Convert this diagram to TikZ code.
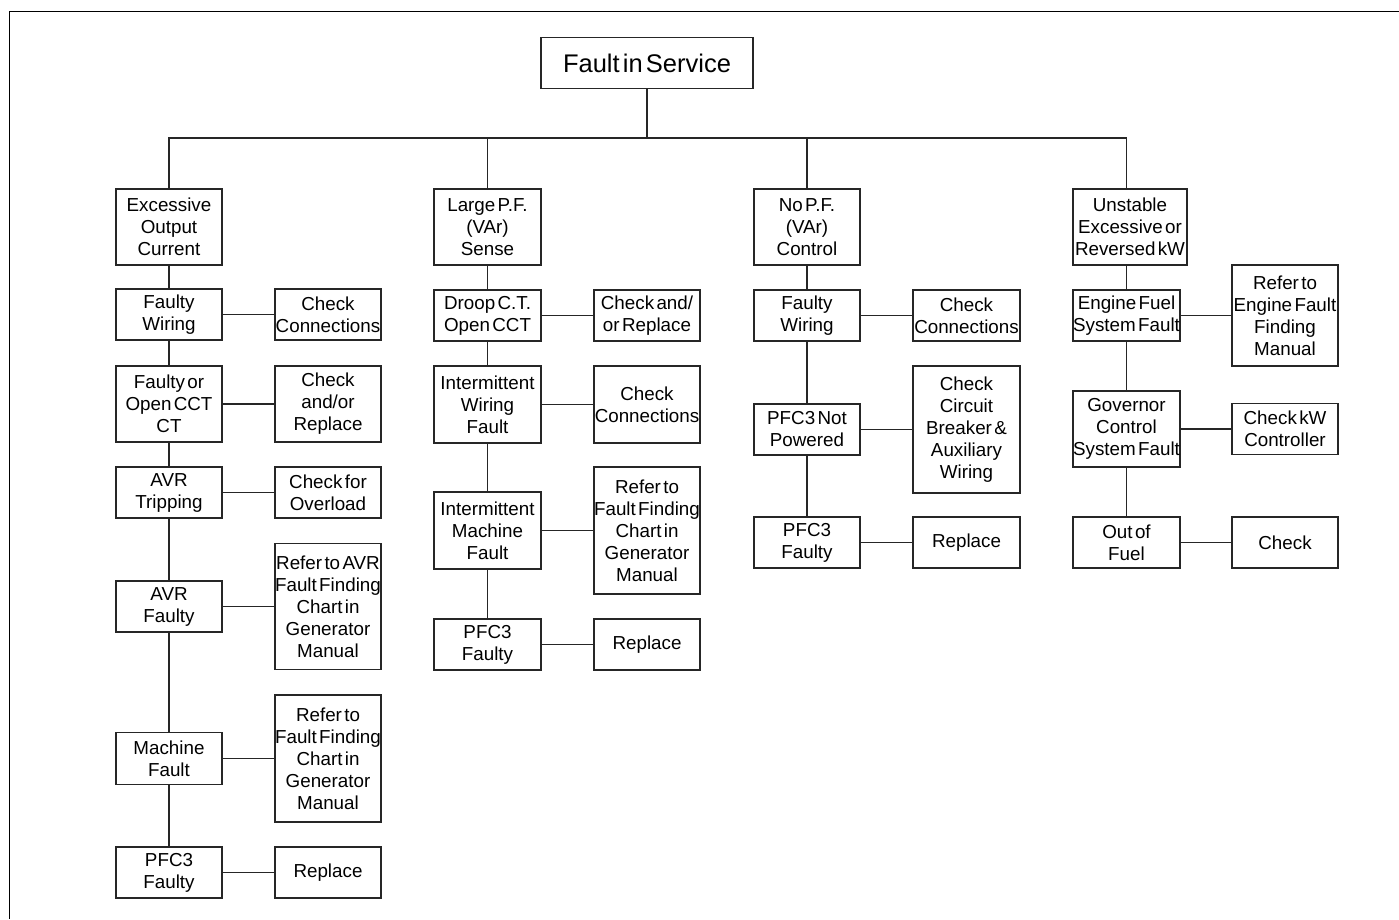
\documentclass[tikz,border=0pt]{standalone}
\usepackage{fontspec}
\setmainfont{Liberation Sans}[WordSpace=0.45]
\begin{document}
\begin{tikzpicture}[x=1pt,y=-1pt,
  box/.style={draw=black!85, line width=1.1pt, align=center, inner sep=0pt, outer sep=0pt,
    font=\fontsize{18.8}{22}\selectfont},
  wire/.style={draw=black!85, line width=1.1pt},
  frame/.style={draw=black, line width=1pt}]
\useasboundingbox (0,0) rectangle (1399,919);
\draw[frame] (1399,11) -- (9,11) -- (9,919);
% root
\node[box, minimum width=212, minimum height=51, font=\fontsize{25.5}{28}\selectfont] (root) at (647,63) {Fault in Service};
% column 1
\node[box, minimum width=106, minimum height=76] (e1) at (169,227) {Excessive\\Output\\Current};
\node[box, minimum width=106, minimum height=51] (f1) at (169,314.5) {Faulty\\Wiring};
\node[box, minimum width=106, minimum height=51] (c1) at (328,314.5) {Check\\Connections};
\node[box, minimum width=106, minimum height=76] (f2) at (169,404) {Faulty or\\Open CCT\\CT};
\node[box, minimum width=106, minimum height=76] (c2) at (328,404) {Check\\and/or\\Replace};
\node[box, minimum width=106, minimum height=51] (f3) at (169,492.5) {AVR\\Tripping};
\node[box, minimum width=106, minimum height=51] (c3) at (328,492.5) {Check for\\Overload};
\node[box, minimum width=106, minimum height=51] (f4) at (169,606.5) {AVR\\Faulty};
\node[box, minimum width=106, minimum height=126] (c4) at (328,606.5) {Refer to AVR\\Fault Finding\\Chart in\\Generator\\Manual};
\node[box, minimum width=106, minimum height=52] (f5) at (169,758.5) {Machine\\Fault};
\node[box, minimum width=106, minimum height=127] (c5) at (328,758.5) {Refer to\\Fault Finding\\Chart in\\Generator\\Manual};
\node[box, minimum width=106, minimum height=51] (f6) at (169,872.5) {PFC3\\Faulty};
\node[box, minimum width=106, minimum height=51] (c6) at (328,872.5) {Replace};
% column 2
\node[box, minimum width=107, minimum height=76] (e2) at (487.5,227) {Large P.F.\\(VAr)\\Sense};
\node[box, minimum width=107, minimum height=51] (g1) at (487.5,315.5) {Droop C.T.\\Open CCT};
\node[box, minimum width=106, minimum height=51] (d1) at (647,315.5) {Check and/\\or Replace};
\node[box, minimum width=107, minimum height=77] (g2) at (487.5,404.5) {Intermittent\\Wiring\\Fault};
\node[box, minimum width=106, minimum height=77] (d2) at (647,404.5) {Check\\Connections};
\node[box, minimum width=107, minimum height=77] (g3) at (487.5,530.5) {Intermittent\\Machine\\Fault};
\node[box, minimum width=106, minimum height=127] (d3) at (647,530.5) {Refer to\\Fault Finding\\Chart in\\Generator\\Manual};
\node[box, minimum width=107, minimum height=51] (g4) at (487.5,644.5) {PFC3\\Faulty};
\node[box, minimum width=106, minimum height=51] (d4) at (647,644.5) {Replace};
% column 3
\node[box, minimum width=106, minimum height=76] (e3) at (807,227) {No P.F.\\(VAr)\\Control};
\node[box, minimum width=106, minimum height=51] (h1) at (807,315.5) {Faulty\\Wiring};
\node[box, minimum width=107, minimum height=51] (k1) at (966.5,315.5) {Check\\Connections};
\node[box, minimum width=106, minimum height=51] (h2) at (807,429.5) {PFC3 Not\\Powered};
\node[box, minimum width=107, minimum height=127] (k2) at (966.5,429.5) {Check\\Circuit\\Breaker \&\\Auxiliary\\Wiring};
\node[box, minimum width=106, minimum height=51] (h3) at (807,542.5) {PFC3\\Faulty};
\node[box, minimum width=107, minimum height=51] (k3) at (966.5,542.5) {Replace};
% column 4
\node[box, minimum width=114, minimum height=76] (e4) at (1130,227) {Unstable\\Excessive or\\Reversed kW};
\node[box, minimum width=107, minimum height=51] (m1) at (1126.5,315.5) {Engine Fuel\\System Fault};
\node[box, minimum width=106, minimum height=101] (n1) at (1285,315.5) {Refer to\\Engine Fault\\Finding\\Manual};
\node[box, minimum width=107, minimum height=76] (m2) at (1126.5,429) {Governor\\Control\\System Fault};
\node[box, minimum width=106, minimum height=51] (n2) at (1285,429) {Check kW\\Controller};
\node[box, minimum width=107, minimum height=51] (m3) at (1126.5,542.5) {Out of\\Fuel};
\node[box, minimum width=106, minimum height=51] (n3) at (1285,542.5) {Check};
% bus
\coordinate (bus) at (647,138);
\draw[wire] (root.south) -- (bus);
\draw[wire] (e1.north) -- (e1.north |- bus) -- (m1.north |- bus) -- (m1.north |- e4.north);
\draw[wire] (e2.north) -- (e2.north |- bus);
\draw[wire] (e3.north) -- (e3.north |- bus);
% vertical chains
\draw[wire] (e1.south) -- (f1.north) (f1.south) -- (f2.north) (f2.south) -- (f3.north)
  (f3.south) -- (f4.north) (f4.south) -- (f5.north) (f5.south) -- (f6.north);
\draw[wire] (e2.south) -- (g1.north) (g1.south) -- (g2.north) (g2.south) -- (g3.north) (g3.south) -- (g4.north);
\draw[wire] (e3.south) -- (h1.north) (h1.south) -- (h2.north) (h2.south) -- (h3.north);
\draw[wire] (m1.north |- e4.south) -- (m1.north) (m1.south) -- (m2.north) (m2.south) -- (m3.north);
% horizontal links
\foreach \a/\b in {f1/c1,f2/c2,f3/c3,f4/c4,f5/c5,f6/c6,g1/d1,g2/d2,g3/d3,g4/d4,h1/k1,h2/k2,h3/k3,m1/n1,m2/n2,m3/n3}
  \draw[wire] (\a.east) -- (\a.east -| \b.west);
\end{tikzpicture}
\end{document}
